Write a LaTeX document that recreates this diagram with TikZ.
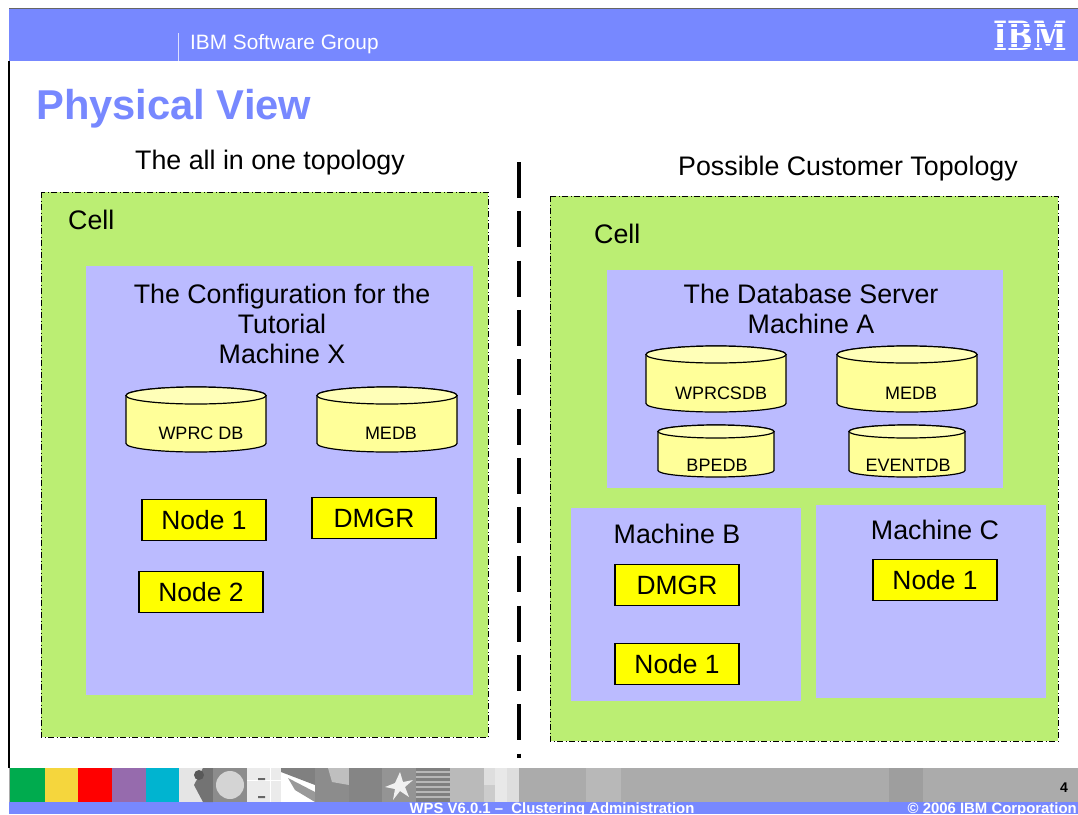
\documentclass[tikz,border=0pt]{standalone}
\usepackage{fontspec}
\setmainfont{Liberation Sans}
\newfontfamily\logofont{DejaVu Serif}
\definecolor{ibmblue}{HTML}{7788FF}
\definecolor{cellgreen}{HTML}{BBEE73}
\definecolor{machblue}{HTML}{BBBBFF}
\definecolor{dbyellow}{HTML}{FFFF99}
\definecolor{nodeyellow}{HTML}{FFFF00}
\definecolor{sgreen}{HTML}{00AB4E}
\definecolor{syellow}{HTML}{F5D63D}
\definecolor{sred}{HTML}{FF0000}
\definecolor{spurple}{HTML}{966BAD}
\definecolor{scyan}{HTML}{00B4D0}
\newcommand{\fsz}[1]{\fontsize{#1}{#1}\selectfont}
\tikzset{
  cellbox/.style={draw=black,fill=cellgreen,line width=1pt,dash pattern=on 6pt off 2.5pt on 1pt off 2.5pt},
  machbox/.style={fill=machblue},
  nodebox/.style={draw=black,fill=nodeyellow,line width=1.2pt,minimum width=124pt,minimum height=41pt,inner sep=0pt,font=\fsz{26.4}},
  big/.style={font=\fsz{26.8},align=center,inner sep=0pt},
  dblabel/.style={font=\fsz{18},inner sep=0pt},
  foot/.style={font=\bfseries\fsz{14.9},text=white,inner sep=0pt},
  cylbody/.style={draw=black,fill=dbyellow,line width=1.2pt},
}
% #1 name, #2 left, #3 top, #4 width, #5 height, #6 ellipse ry
\newcommand{\dbcyl}[6]{%
  \path[cylbody] (#2,#3+#6) -- (#2,#3+#5-#6) arc[start angle=180,end angle=0,x radius=#4/2,y radius=#6]
     -- (#2+#4,#3+#6) arc[start angle=0,end angle=-180,x radius=#4/2,y radius=#6] -- cycle;
  \path[cylbody,fill=dbyellow!70!white] (#2+#4/2,#3+#6) ellipse[x radius=#4/2,y radius=#6];
  \coordinate (#1) at (#2+#4/2,#3+#5/2);
}
\newcommand{\cell}[3]{\fill[#3] (#1,768) rectangle (#2,802);}
\begin{document}
\begin{tikzpicture}[x=1pt,y=-1pt]
\useasboundingbox (0,0) rectangle (1078,814);
\fill[white] (0,0) rectangle (1078,814);
% header
\fill[ibmblue] (9,9) rectangle (1078,61);
\draw[gray!80!black,line width=1pt] (9,8.5) -- (1078,8.5);
\draw[black,line width=1.2pt] (9,61) -- (9,768);
\draw[white!75!ibmblue,line width=1pt] (178.5,33) -- (178.5,61);
\node[font=\fsz{20.8},text=white,anchor=west,inner sep=0pt] (grp) at (190,44) {IBM Software Group};
% IBM logo
\node[font=\logofont\bfseries\fsz{31},text=white,inner sep=0pt,yscale=1.3,xscale=0.98] (logo) at (1030.5,36) {IBM};
\foreach \ya/\yb in {22.7/24,27.3/29,43/44,46.7/48}{\fill[ibmblue] (990,\ya) rectangle (1072,\yb);}
% title
\node[font=\bfseries\fsz{41.7},text=ibmblue,anchor=west,inner sep=0pt] (title) at (36,109) {Physical View};
\node[big] (t1) at (270,163) {The all in one topology};
\node[big] (t2) at (848,169) {Possible Customer Topology};
% divider
\draw[black,line width=4.5pt,dash pattern=on 36pt off 13.3pt] (519,162) -- (519,758);
% left
\path[cellbox] (41,192) rectangle (488,737);
\node[big,anchor=west] (c1) at (68,220) {Cell};
\path[machbox] (86,266) rectangle (473,695);
\node[big] (m1) at (282,324) {The Configuration for the\\[3pt]Tutorial\\[3pt]Machine X};
\dbcyl{d1}{126}{387}{140}{65}{8.5}
\node[dblabel] (l1) at (201,433) {WPRC DB};
\dbcyl{d2}{317}{387}{140}{65}{8.5}
\node[dblabel] (l2) at (391,433) {MEDB};
\node[nodebox] (n1) at (204,520) {Node 1};
\node[nodebox] (n2) at (374,518) {DMGR};
\node[nodebox] (n3) at (201,592) {Node 2};
% right
\path[cellbox] (550,196) rectangle (1058,741);
\node[big,anchor=west] (c2) at (594,234) {Cell};
\path[machbox] (607,270) rectangle (1003,488);
\node[big] (m2) at (811,309) {The Database Server\\[3pt]Machine A};
\dbcyl{d3}{646}{346}{140}{66}{8.5}
\node[dblabel] (l3) at (721,393) {WPRCSDB};
\dbcyl{d4}{837}{346}{140}{66}{8.5}
\node[dblabel] (l4) at (911,393) {MEDB};
\dbcyl{d5}{658}{425}{116}{52}{6.5}
\node[dblabel] (l5) at (717,465) {BPEDB};
\dbcyl{d6}{849}{425}{116}{52}{6.5}
\node[dblabel] (l6) at (908,465) {EVENTDB};
\path[machbox] (571,508) rectangle (801,701);
\node[big] (m3) at (677,534) {Machine B};
\path[machbox] (816,505) rectangle (1046,698);
\node[big] (m4) at (935,530) {Machine C};
\node[nodebox] (n4) at (677,585) {DMGR};
\node[nodebox] (n5) at (677,664) {Node 1};
\node[nodebox] (n6) at (935,580) {Node 1};
% footer strip
\fill[black!33] (9,768) rectangle (1078,802);
\fill[ibmblue] (9,802) rectangle (1078,814);
\cell{10}{45}{sgreen}
\cell{45}{78}{syellow}
\cell{78}{112}{sred}
\cell{112}{146}{spurple}
\cell{146}{179}{scyan}
% photo cells
\cell{179}{213}{black!10}
\fill[black!55] (203,768) -- (213,768) -- (213,802) -- (203,802) -- (194,785) -- cycle;
\fill[black!65] (199,775) circle (5);
\cell{213}{247}{black!45}
\fill[black!17] (230,785) circle (14);
\cell{247}{281}{black!8}
\draw[white,line width=1pt] (247,780) -- (281,780) (270,768) -- (270,802);
\fill[black!60] (258,778) rectangle (265,780) (258,796) rectangle (265,798);
\cell{281}{315}{white}
\fill[black!50] (281,768) -- (315,768) -- (315,785) -- (281,772) -- cycle;
\fill[black!40] (295,790) -- (315,802) -- (315,792) -- (288,778) -- cycle;
\cell{315}{349}{black!45}
\fill[black!25] (328,768) -- (349,768) -- (349,785) -- (332,782) -- cycle;
\cell{349}{382}{black!48}
\cell{382}{416}{black!42}
\fill[black!6] (400,772) -- (403,782) -- (413,780) -- (405,787) -- (409,797) -- (400,791) -- (393,800) -- (395,789) -- (385,787) -- (395,783) -- cycle;
\cell{416}{450}{black!50}
\foreach \yy in {771,776,781,786,791,796}{\fill[black!28] (416,\yy) rectangle (450,\yy+2);}
\cell{450}{484}{black!27}
\cell{484}{519}{black!13}
\fill[black!9] (495,768) rectangle (507,802);
\fill[black!20] (484,785) rectangle (495,802);
\cell{586}{621}{black!28}
\cell{889}{923}{black!38}
% footer text
\node[foot] (f1) at (552,809.5) {WPS V6.0.1 –\ \ Clustering Administration};
\node[foot,anchor=east] (f2) at (1077,809.5) {© 2006 IBM Corporation};
\node[font=\bfseries\fsz{14},inner sep=0pt] (pg) at (1064,788) {4};
\end{tikzpicture}
\end{document}
